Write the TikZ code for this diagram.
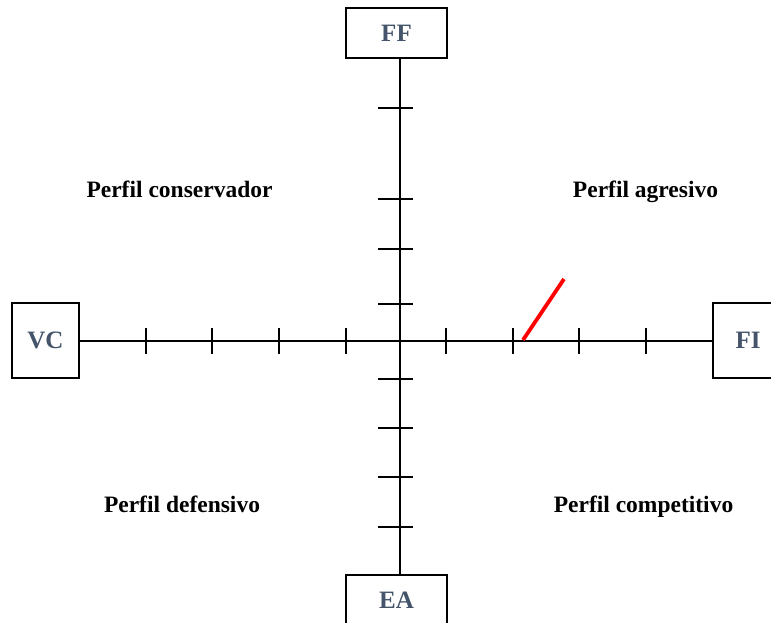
\documentclass[tikz,border=0pt]{standalone}
\usepackage{fontspec}
\setmainfont{Liberation Serif}
\usetikzlibrary{positioning, calc}
\definecolor{slate}{RGB}{68,84,106}

\begin{document}
\begin{tikzpicture}[
    x=1pt, y=-1pt,
    axisbox/.style={rectangle, draw, line width=1.6pt, fill=white, text=slate, font=\bfseries\fontsize{25}{29}\selectfont, inner sep=0pt},
    axisline/.style={line width=1.5pt},
    tick/.style={line width=1.8pt},
    profile/.style={font=\bfseries\fontsize{23.5}{28}\selectfont, anchor=base},
    marker/.style={red, line width=3.8pt}
]
\useasboundingbox (0,0) rectangle (771,622);

% Nodes
\coordinate (o) at (400,341);
\node[axisbox, minimum width=101pt, minimum height=50pt] (ff) at (396.5,33) {FF};
\node[axisbox, minimum width=101pt, minimum height=50pt] (ea) at (396.5,600) {EA};
\node[axisbox, minimum width=67pt, minimum height=75pt] (vc) at (45.5,340.5) {VC};
\node[axisbox, minimum width=70pt, minimum height=75pt] (fi) at (748,340.5) {FI};

% Axes
\draw[axisline] (o |- ff.south) -- (o |- ea.north);
\draw[axisline] (vc.east |- o) -- (fi.west |- o);

% Ticks
\foreach \x in {146,212,279,346,446,513,579,646}
    \draw[tick] (\x,328) -- (\x,354);
\foreach \y in {108,199,249,304,379,428,477,527}
    \draw[tick] (378,\y) -- (413,\y);

% Marker
\coordinate (m1) at (523,340);
\coordinate (m2) at (564,279);
\draw[marker] (m1) -- (m2);

% Labels
\node[profile] (cons) at (179.5,197) {Perfil conservador};
\node[profile] (agre) at (645.5,197) {Perfil agresivo};
\node[profile] (defe) at (182,512) {Perfil defensivo};
\node[profile] (comp) at (643.5,512) {Perfil competitivo};

\end{tikzpicture}
\end{document}
